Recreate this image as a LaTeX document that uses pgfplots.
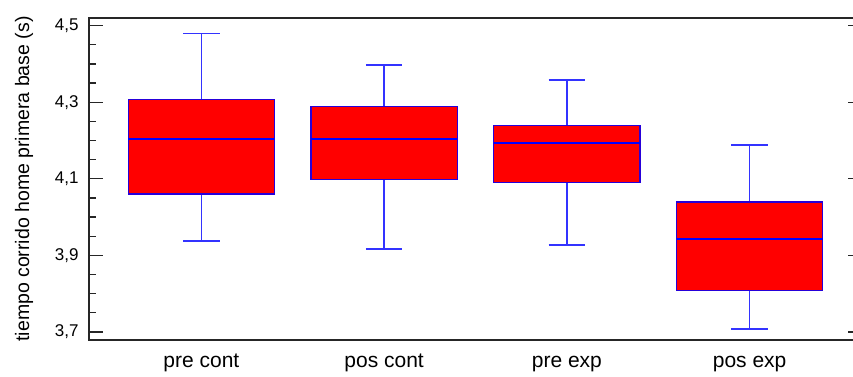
\documentclass[border=0pt]{standalone}
\usepackage{fontspec}
\setmainfont{Liberation Sans}
\usepackage{pgfplots}
\pgfplotsset{compat=1.18}
\usepgfplotslibrary{statistics}
\begin{document}
\begin{tikzpicture}
\begin{axis}[
  scale only axis, width=773pt, height=322pt,
  xmin=0.385, xmax=4.615, ymin=3.679, ymax=4.52,
  xtick={1,2,3,4}, xticklabels={pre cont, pos cont, pre exp, pos exp},
  x tick style={draw=none},
  ytick={3.7,3.9,4.1,4.3,4.5}, minor y tick num=3,
  major tick length=14pt, minor tick length=7pt,
  y tick style={black!85, line width=1.2pt},
  axis line style={black!85, line width=1.5pt},
  /pgf/number format/.cd, use comma, fixed, fixed zerofill, precision=1, assume math mode=true, /pgfplots/.cd,
  yticklabel style={font=\fontsize{17}{17}\selectfont, xshift=-7pt},
  xticklabel style={font=\fontsize{21}{21}\selectfont, text height=15pt, text depth=4.5pt, yshift=-9pt},
  ylabel={tiempo corrido home primera base (s)},
  ylabel style={font=\fontsize{19.5}{19.5}\selectfont, at={(axis description cs:-0.0841,0.5)}, anchor=center},
  boxplot/draw direction=y,
  boxplot/box extend=0.8,
  boxplot/whisker extend=0.2,
  boxplot/every box/.style={fill=red, draw=blue!85!red, line width=1.4pt},
  boxplot/every whisker/.style={draw=blue!80, line width=1.6pt},
  boxplot/every median/.style={draw=blue, line width=1.8pt},
]
\addplot[boxplot prepared={draw position=1, lower whisker=3.938, lower quartile=4.060, median=4.204, upper quartile=4.307, upper whisker=4.479}] coordinates {};
\addplot[boxplot prepared={draw position=2, lower whisker=3.917, lower quartile=4.098, median=4.204, upper quartile=4.289, upper whisker=4.398}] coordinates {};
\addplot[boxplot prepared={draw position=3, lower whisker=3.927, lower quartile=4.090, median=4.193, upper quartile=4.239, upper whisker=4.358}] coordinates {};
\addplot[boxplot prepared={draw position=4, lower whisker=3.707, lower quartile=3.809, median=3.943, upper quartile=4.039, upper whisker=4.189}] coordinates {};
\coordinate (bl) at (rel axis cs:0,0);
\coordinate (tr) at (rel axis cs:1,1);
\end{axis}
\pgfresetboundingbox
\path[use as bounding box] ([xshift=-89pt,yshift=-36.3pt]bl) rectangle ([xshift=-9pt,yshift=18pt]tr);
\end{tikzpicture}
\end{document}
